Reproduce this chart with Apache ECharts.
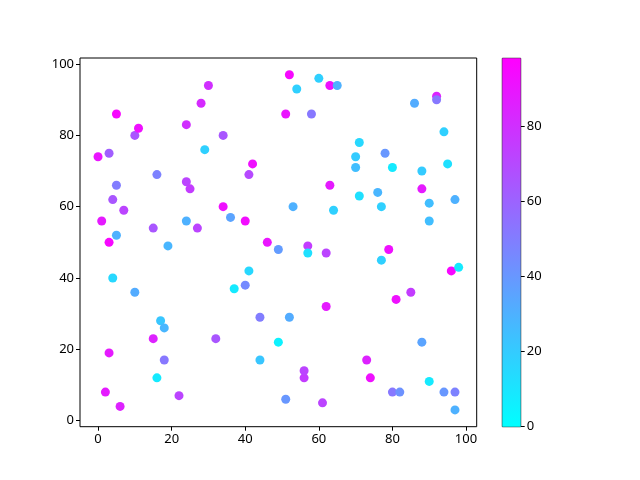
<!DOCTYPE html>
<html>
<head>
<meta charset="utf-8">
<script src="https://cdn.jsdelivr.net/npm/echarts@6/dist/echarts.min.js"></script>
<style>html,body{margin:0;padding:0;background:#fff}#c{width:640px;height:480px}</style>
</head>
<body>
<div id="c"></div>
<script>
const xs = [0,1,2,3,3,3,4,4,5,5,5,6,7,10,10,11,15,15,16,16,17,18,18,19,22,24,24,24,25,27,28,29,30,32,34,34,36,37,40,40,41,41,42,44,44,46,49,49,51,51,52,52,53,54,56,56,57,57,58,60,61,62,62,63,63,65,64,70,70,71,71,73,74,76,77,77,78,79,80,80,81,82,85,86,88,88,88,90,90,90,92,92,94,94,95,96,97,97,97,98];
const ys = [74,56,8,75,50,19,62,40,86,66,52,4,59,36,80,82,54,23,69,12,28,26,17,49,7,83,67,56,65,54,89,76,94,23,80,60,57,37,38,56,42,69,72,29,17,50,48,22,86,6,97,29,60,93,12,14,49,47,86,96,5,47,32,94,66,94,59,74,71,78,63,17,12,64,60,45,75,48,71,8,34,8,36,89,70,22,65,61,56,11,91,90,81,8,72,42,62,8,3,43];
const cs = [90,88,88,62,95,88,65,15,95,50,30,85,72,32,65,92,65,85,48,8,22,28,52,28,72,80,72,30,75,72,82,18,80,65,65,92,35,8,45,93,15,70,92,50,22,90,38,5,90,40,95,32,30,18,75,72,75,12,52,18,72,72,88,92,88,30,18,20,25,15,12,85,92,28,18,18,40,92,8,52,92,42,75,32,20,35,88,25,25,8,85,52,18,40,12,95,30,48,30,8];
const xTicks = [0,20,40,60,80,100];
const yTicks = [0,20,40,60,80,100];
const cMin = 0, cMax = 98;
const cbTicks = [0,20,40,60,80];

const pts = xs.map((x,i)=>[x, ys[i], cs[i]]);
const font = 'Noto Sans';
const lab = {color:'#000', fontFamily:font, fontSize:13};

const chart = echarts.init(document.getElementById('c'), null, {renderer:'canvas'});
chart.setOption({
  animation:false,
  backgroundColor:'#fff',
  grid:[
    {left:80, top:58, width:396.7, height:368.7, show:true, borderColor:'#000', borderWidth:1, backgroundColor:'transparent'},
    {left:502.3, top:58.3, width:18.4, height:368.4, show:true, borderColor:'#000', borderWidth:1, backgroundColor:'transparent'}
  ],
  xAxis:[
    {type:'value', gridIndex:0, min:-4.9, max:102.9, position:'bottom',
     axisLine:{show:false, onZero:false}, splitLine:{show:false},
     axisTick:{show:true, inside:false, length:4, lineStyle:{color:'#000'}, customValues:xTicks},
     axisLabel:Object.assign({margin:6, customValues:xTicks}, lab)},
    {type:'category', gridIndex:1, data:['c'], show:false}
  ],
  yAxis:[
    {type:'value', gridIndex:0, min:-1.7, max:101.7, position:'left',
     axisLine:{show:false, onZero:false}, splitLine:{show:false},
     axisTick:{show:true, inside:false, length:4, lineStyle:{color:'#000'}, customValues:yTicks},
     axisLabel:Object.assign({margin:6, customValues:yTicks}, lab)},
    {type:'value', gridIndex:1, position:'right', min:cMin, max:cMax,
     axisLine:{show:false, onZero:false}, splitLine:{show:false},
     axisTick:{show:true, inside:false, length:4, lineStyle:{color:'#000'}, customValues:cbTicks},
     axisLabel:Object.assign({margin:6, customValues:cbTicks}, lab)}
  ],
  visualMap:{show:false, type:'continuous', seriesIndex:0, dimension:2, min:cMin, max:cMax,
    inRange:{color:['#00ffff','#ff00ff']}},
  series:[
    {type:'scatter', xAxisIndex:0, yAxisIndex:0, data:pts, symbolSize:9,
     itemStyle:{opacity:1}},
    {type:'bar', xAxisIndex:1, yAxisIndex:1, data:[cMax], barWidth:'100%',
     itemStyle:{color:new echarts.graphic.LinearGradient(0,0,0,1,[{offset:0,color:'#ff00ff'},{offset:1,color:'#00ffff'}])}}
  ]
});
</script>
</body>
</html>
